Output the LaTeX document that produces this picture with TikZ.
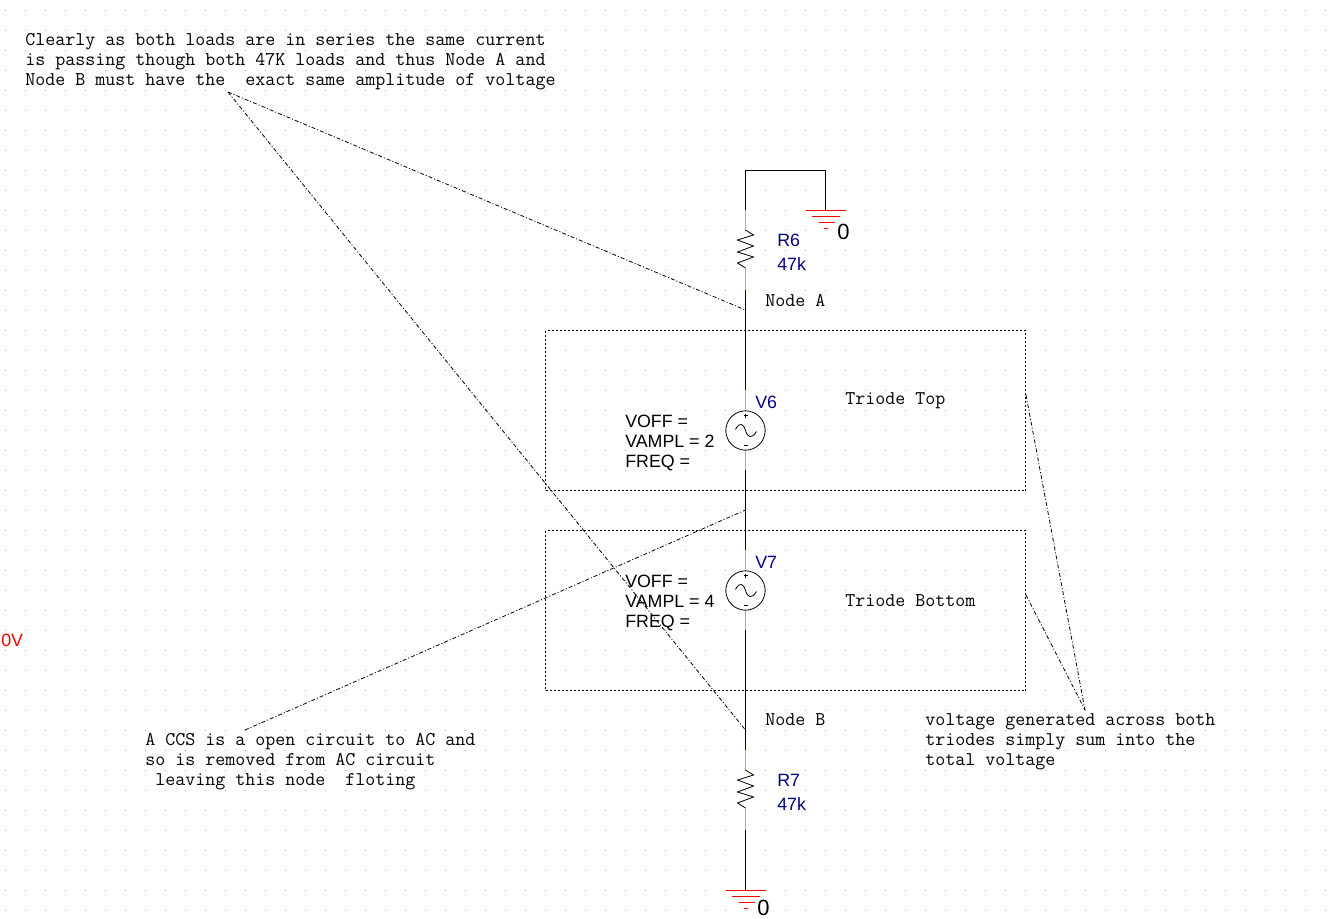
\documentclass[tikz,border=0pt]{standalone}
\usepackage{fontspec}
\setmainfont{Liberation Sans}
\setmonofont{Latin Modern Mono}
\definecolor{wiregreen}{RGB}{120,225,30}
\definecolor{partblue}{RGB}{0,0,128}
\definecolor{griddot}{RGB}{175,175,175}
\tikzset{
  wire/.style={draw=black,line width=0.75pt},
  stub/.style={draw=wiregreen,line width=0.75pt},
  gndline/.style={draw=red,line width=0.75pt},
  part/.style={draw=black,line width=0.6pt},
  note/.style={anchor=north west,inner sep=0pt,align=left,text=black,font=\fontsize{14.57}{15}\selectfont\ttfamily},
  small/.style={anchor=west,inner sep=0pt,text=black,font=\fontsize{14.57}{15}\selectfont\ttfamily},
  param/.style={anchor=north west,inner sep=0pt,align=left,text=black,font=\fontsize{13.35}{15}\selectfont},
  pname/.style={anchor=west,inner sep=0pt,text=partblue,font=\fontsize{13.35}{15}\selectfont},
  gndtext/.style={anchor=west,inner sep=0pt,text=black,font=\fontsize{16.5}{18}\selectfont},
  leader/.style={draw=black,line width=0.6pt,dash pattern=on 3pt off 1.5pt on 0.8pt off 1.5pt},
  blockbox/.style={draw=black,line width=0.6pt,dash pattern=on 1.5pt off 1.5pt},
  source/.style={circle,draw=black,line width=0.6pt,minimum size=29.5pt,inner sep=0pt},
}
\begin{document}
\begin{tikzpicture}[x=0.75pt,y=-0.75pt]
\useasboundingbox (0,0) rectangle (1338,918);
\fill[white] (0,0) rectangle (1338,918);
% sheet grid
\foreach \gx in {5,25,...,1325}{\foreach \gy in {10,30,...,910}{\fill[griddot] (\gx-0.1,\gy-0.1) rectangle (\gx+1.1,\gy+1.1);}}
% coordinates
\coordinate (wtl) at (745.5,170.5);\coordinate (wtr) at (825.5,170.5);
\coordinate (gt) at (825.5,210);\coordinate (r6a) at (745.5,210);
\coordinate (r6t) at (745.5,230);\coordinate (r6b) at (745.5,268);\coordinate (r6c) at (745.5,290);
\coordinate (nodeA) at (745.5,310);
\coordinate (v6a) at (745.5,390);\coordinate (v6c) at (745.5,470);
\coordinate (mid) at (745.5,510);
\coordinate (v7a) at (745.5,550);\coordinate (v7c) at (745.5,630);
\coordinate (nodeB) at (745.5,730);
\coordinate (r7a) at (745.5,750);\coordinate (r7t) at (745.5,770);\coordinate (r7b) at (745.5,808);\coordinate (r7c) at (745.5,830);
\coordinate (gb) at (745.5,890);
\coordinate (noteA) at (228,92);\coordinate (noteC) at (245,730);\coordinate (noteV) at (1085,710);
\coordinate (topR) at (1026,395);\coordinate (botR) at (1026,595);
% blocks
\draw[blockbox] (545.5,330.5) rectangle (1025.5,490.5);
\draw[blockbox] (545.5,530.5) rectangle (1025.5,690.5);
% sources
\node[source] (V6) at (745.5,430.5) {};
\node[source] (V7) at (745.5,590.5) {};
\foreach \s in {V6,V7}{
  \draw[part] ([shift={(-10,-1)}]\s.center) .. controls ([shift={(-6,-9)}]\s.center) and ([shift={(-2,-7)}]\s.center) .. (\s.center) .. controls ([shift={(2,7)}]\s.center) and ([shift={(6,9)}]\s.center) .. ([shift={(11,1)}]\s.center);
  \draw[part] ([shift={(-2,-15)}]\s.center) -- ([shift={(2,-15)}]\s.center);
  \draw[part] ([shift={(0,-17)}]\s.center) -- ([shift={(0,-13)}]\s.center);
  \draw[part] ([shift={(-2,15)}]\s.center) -- ([shift={(2,15)}]\s.center);
}
% wires
\draw[wire] (r6a) -- (wtl) -- (wtr) -- (gt);
\draw[wire] (r6c) -- (nodeA) -- (v6a);
\draw[wire] (v6c) -- (mid) -- (v7a);
\draw[wire] (v7c) -- (nodeB) -- (r7a);
\draw[wire] (r7c) -- (gb);
\draw[stub] (r6a) -- (r6t);\draw[stub] (r6b) -- (r6c);
\draw[stub] (v6a) -- (V6.north);\draw[stub] (V6.south) -- (v6c);
\draw[stub] (v7a) -- (V7.north);\draw[stub] (V7.south) -- (v7c);
\draw[stub] (r7a) -- (r7t);\draw[stub] (r7b) -- (r7c);
% resistors
\draw[part] (r6t) -- ++(8,5) -- ++(-16,5) -- ++(16,6) -- ++(-16,6) -- ++(16,5) -- ++(-16,6) -- (r6b);
\draw[part] (r7t) -- ++(8,5) -- ++(-16,5) -- ++(16,6) -- ++(-16,6) -- ++(16,5) -- ++(-16,6) -- (r7b);
% grounds
\foreach \g in {gt,gb}{
  \draw[gndline] ([shift={(-20,0.5)}]\g) -- ([shift={(20,0.5)}]\g);
  \draw[gndline] ([shift={(-14,6.5)}]\g) -- ([shift={(14,6.5)}]\g);
  \draw[gndline] ([shift={(-7,12.5)}]\g) -- ([shift={(9,12.5)}]\g);
  \draw[gndline] ([shift={(-2,18.5)}]\g) -- ([shift={(2,18.5)}]\g);
}
% leaders
\draw[leader] (noteA) -- (nodeA);
\draw[leader] (noteA) -- (nodeB);
\draw[leader] (noteC) -- (mid);
\draw[leader] (topR) -- (noteV);
\draw[leader] (botR) -- (noteV);
% labels
\node[gndtext] (g0a) at (837,232) {0};
\node[gndtext] (g0b) at (757,908) {0};
\node[pname] (R6n) at (777,240.5) {R6};
\node[pname] (R6v) at (777,264.5) {47k};
\node[pname] (R7n) at (777,780.5) {R7};
\node[pname] (R7v) at (777,804.5) {47k};
\node[pname] (V6n) at (755,402.5) {V6};
\node[pname] (V7n) at (755,562.5) {V7};
\node[param] (V6p) at (625,414.5) {VOFF =\\VAMPL = 2\\FREQ =};
\node[param] (V7p) at (625,574.5) {VOFF =\\VAMPL = 4\\FREQ =};
\node[anchor=west,inner sep=0pt,text=red,font=\fontsize{13.35}{15}\selectfont] (zeroV) at (1,640) {0V};
\node[small] (NA) at (765,300) {Node A};
\node[small] (NB) at (765,720) {Node B};
\node[small] (TT) at (845,400.5) {Triode Top};
\node[small] (TB) at (845,600.5) {Triode Bottom};
\node[note] (N1) at (25,33) {Clearly as both loads are in series the same current\\is passing though both 47K loads and thus Node A and\\Node B must have the\ \ exact same amplitude of voltage};
\node[note] (N2) at (145,733) {A CCS is a open circuit to AC and\\so is removed from AC circuit\\\ leaving this node\ \ floting};
\node[note] (N3) at (925,713) {voltage generated across both\\triodes simply sum into the\\total voltage};
\end{tikzpicture}
\end{document}
